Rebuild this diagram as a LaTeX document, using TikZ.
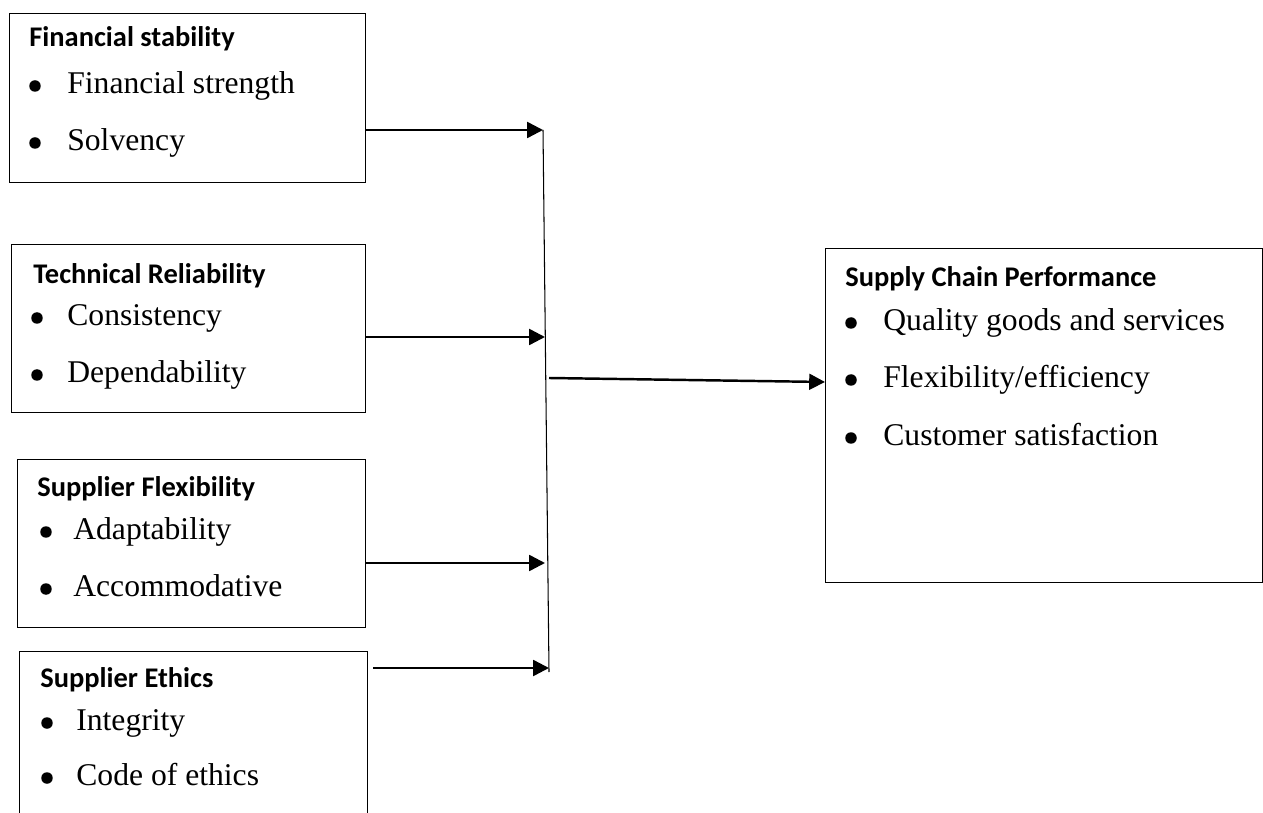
\documentclass[tikz,border=0pt]{standalone}
\usepackage{fontspec}
\setmainfont{Liberation Serif}
\newfontfamily\headfont{Carlito}
\usetikzlibrary{arrows.meta}

\tikzset{
  box/.style={draw, line width=0.6pt, anchor=north west, inner sep=0pt},
  head/.style={anchor=mid west, inner sep=0pt, font=\headfont\bfseries\fontsize{16.2}{19}\selectfont},
  item/.style={anchor=mid west, inner sep=0pt, font=\fontsize{18}{21}\selectfont},
  dot/.style={circle, fill, inner sep=0pt, minimum size=0.23cm},
  link/.style={-{Triangle[length=9pt,width=9pt]}, line width=1.4pt},
}

\begin{document}
\begin{tikzpicture}[x=0.02cm, y=-0.02cm]
  \useasboundingbox (0,0) rectangle (1263,813);
  \clip (0,0) rectangle (1263,813);

  % boxes
  \node[box, minimum width=7.12cm, minimum height=3.38cm] (fin) at (9,13) {};
  \node[box, minimum width=7.08cm, minimum height=3.36cm] (tech) at (11,244) {};
  \node[box, minimum width=6.96cm, minimum height=3.36cm] (flex) at (17,459) {};
  \node[box, minimum width=6.96cm, minimum height=4cm] (eth) at (19,651) {};
  \node[box, minimum width=8.74cm, minimum height=6.68cm] (perf) at (825,248) {};

  % texts
  \node[head] (finh) at (29,42) {Financial stability};
  \node[dot] (find1) at (35,86) {};
  \node[item] (fini1) at (67,89) {Financial strength};
  \node[dot] (find2) at (35,143) {};
  \node[item] (fini2) at (67,146) {Solvency};

  \node[head] (techh) at (33,279) {Technical Reliability};
  \node[dot] (techd1) at (37,318) {};
  \node[item] (techi1) at (67,321) {Consistency};
  \node[dot] (techd2) at (37,375) {};
  \node[item] (techi2) at (67,378) {Dependability};

  \node[head] (flexh) at (37,492) {Supplier Flexibility};
  \node[dot] (flexd1) at (46,532) {};
  \node[item] (flexi1) at (73,535) {Adaptability};
  \node[dot] (flexd2) at (46,589) {};
  \node[item] (flexi2) at (73,592) {Accommodative};

  \node[head] (ethh) at (40,683) {Supplier Ethics};
  \node[dot] (ethd1) at (47,723) {};
  \node[item] (ethi1) at (76,726) {Integrity};
  \node[dot] (ethd2) at (47,778) {};
  \node[item] (ethi2) at (76,781) {Code of ethics};

  \node[head] (perfh) at (845,282) {Supply Chain Performance};
  \node[dot] (perfd1) at (851,323) {};
  \node[item] (perfi1) at (883,326) {Quality goods and services};
  \node[dot] (perfd2) at (851,380) {};
  \node[item] (perfi2) at (883,383) {Flexibility/efficiency};
  \node[dot] (perfd3) at (851,438) {};
  \node[item] (perfi3) at (883,441) {Customer satisfaction};

  % bus and arrows
  \coordinate (bustop) at (543,130);
  \coordinate (busbot) at (549,672);
  \coordinate (j1) at (543,130);
  \coordinate (j2) at (545,337);
  \coordinate (j3) at (545,563);
  \coordinate (j4) at (549,668);
  \coordinate (jout) at (549,378);
  \coordinate (pin) at (825,382);
  \draw[line width=0.6pt] (bustop) -- (busbot);
  \draw[link] (fin.east |- j1) -- (j1);
  \draw[link] (tech.east |- j2) -- (j2);
  \draw[link] (flex.east |- j3) -- (j3);
  \draw[link] ([xshift=3pt]eth.east |- j4) -- (j4);
  \draw[link] (jout) -- (pin);
\end{tikzpicture}
\end{document}
